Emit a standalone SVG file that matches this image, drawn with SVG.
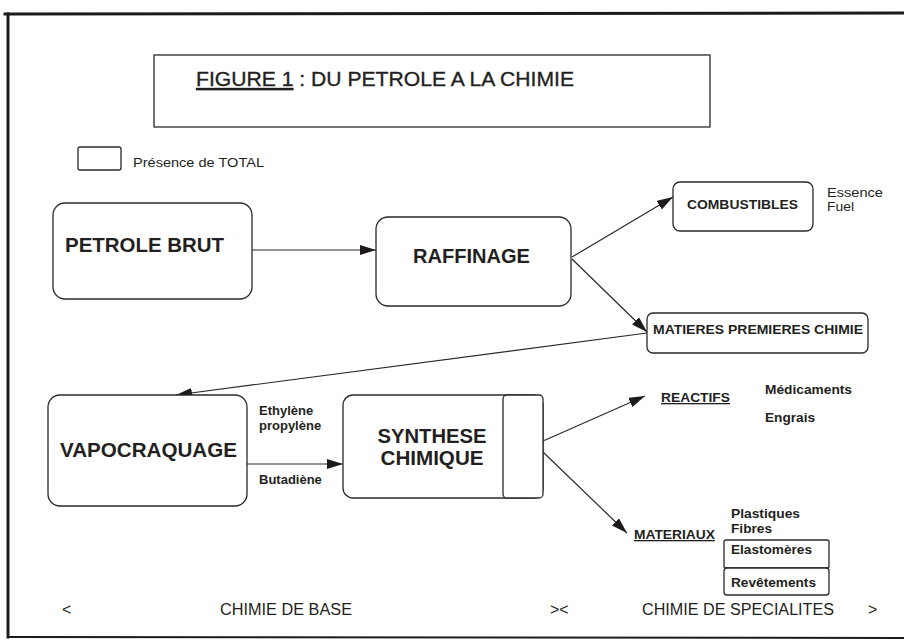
<svg xmlns="http://www.w3.org/2000/svg" width="904" height="642" viewBox="0 0 904 642">
<defs>
<style>
.frame{stroke:#1e1a1c;fill:none;stroke-linecap:square}
.box{fill:#fff;stroke:#2a2a2a;stroke-width:1.3}
.t{font-family:"Liberation Sans",Arial,sans-serif;fill:#231f20}
.big{font-size:20px;font-weight:bold}
.mid{font-size:13px;font-weight:bold}
.lab{font-size:13px;font-weight:bold}
.reg{font-size:13px}
.foot{font-size:16px}
.u{text-decoration:underline}
.edge{stroke:#2a2a2a;stroke-width:1.2;fill:none;marker-end:url(#ah)}
</style>
<marker id="ah" markerUnits="userSpaceOnUse" markerWidth="16" markerHeight="10" refX="16" refY="5" orient="auto">
<path d="M0,0 L16,5 L0,10 z" fill="#1e1a1c"/>
</marker>
</defs>

<g id="frame">
<line class="frame" x1="5" y1="14" x2="904" y2="13" stroke-width="3"/>
<line class="frame" x1="8" y1="14" x2="8" y2="637" stroke-width="3"/>
<line class="frame" x1="8" y1="637" x2="904" y2="638" stroke-width="2" stroke="#555"/>
</g>

<g id="title">
<rect class="box" x="154" y="55" width="556" height="72"/>
<text class="t" x="196" y="86" font-size="21" stroke="#231f20" stroke-width="0.35" textLength="378" lengthAdjust="spacingAndGlyphs"><tspan class="u">FIGURE 1</tspan> : DU PETROLE A LA CHIMIE</text>
</g>

<g id="legend">
<rect class="box" x="78" y="147" width="43" height="23" rx="2"/>
<text class="t" x="133" y="167" font-size="12" textLength="131" lengthAdjust="spacingAndGlyphs">Présence de TOTAL</text>
</g>

<g id="connectors">
<path class="edge" d="M252,250 L376,250"/>
<path class="edge" d="M572,257 L673,197"/>
<path class="edge" d="M572,259 L647,332"/>
<path class="edge" d="M647,333 L176,395"/>
<path class="edge" d="M247,464 L343,464"/>
<path class="edge" d="M543,441 L645,396"/>
<path class="edge" d="M543,452 L627,533"/>
</g>

<g id="petrole-brut">
<rect class="box" x="53" y="203" width="199" height="96" rx="12"/>
<text class="t big" x="65" y="252" textLength="159" lengthAdjust="spacingAndGlyphs">PETROLE BRUT</text>
</g>

<g id="raffinage">
<rect class="box" x="376" y="217" width="195" height="89" rx="12"/>
<text class="t big" x="413" y="263" textLength="117" lengthAdjust="spacingAndGlyphs">RAFFINAGE</text>
</g>

<g id="combustibles">
<rect class="box" x="673" y="182" width="140" height="49" rx="7"/>
<text class="t mid" x="687" y="209" textLength="111" lengthAdjust="spacingAndGlyphs">COMBUSTIBLES</text>
<text class="t reg" x="827" y="197" textLength="56" lengthAdjust="spacingAndGlyphs">Essence</text>
<text class="t reg" x="827" y="211" textLength="27" lengthAdjust="spacingAndGlyphs">Fuel</text>
</g>

<g id="matieres-premieres">
<rect class="box" x="647" y="313" width="221" height="40" rx="6"/>
<text class="t mid" x="653" y="334" textLength="210" lengthAdjust="spacingAndGlyphs">MATIERES PREMIERES CHIMIE</text>
</g>

<g id="vapocraquage">
<rect class="box" x="48" y="395" width="199" height="111" rx="12"/>
<text class="t big" x="60" y="457" textLength="177" lengthAdjust="spacingAndGlyphs">VAPOCRAQUAGE</text>
<text class="t lab" x="259" y="415">Ethylène</text>
<text class="t lab" x="259" y="430">propylène</text>
<text class="t lab" x="259" y="484">Butadiène</text>
</g>

<g id="synthese-chimique">
<rect class="box" x="343" y="395" width="200" height="103" rx="10"/>
<rect class="box" x="503" y="395" width="40" height="103" rx="4"/>
<text class="t big" x="432" y="443" text-anchor="middle" textLength="109" lengthAdjust="spacingAndGlyphs">SYNTHESE</text>
<text class="t big" x="432" y="465" text-anchor="middle" textLength="103" lengthAdjust="spacingAndGlyphs">CHIMIQUE</text>
</g>

<g id="reactifs">
<text class="t mid u" x="661" y="402" textLength="69" lengthAdjust="spacingAndGlyphs">REACTIFS</text>
<text class="t mid" x="765" y="394" textLength="87" lengthAdjust="spacingAndGlyphs">Médicaments</text>
<text class="t mid" x="765" y="422" textLength="50" lengthAdjust="spacingAndGlyphs">Engrais</text>
</g>

<g id="materiaux">
<text class="t mid u" x="634" y="539" textLength="81" lengthAdjust="spacingAndGlyphs">MATERIAUX</text>
<text class="t mid" x="731" y="518" textLength="69" lengthAdjust="spacingAndGlyphs">Plastiques</text>
<text class="t mid" x="731" y="533" textLength="41" lengthAdjust="spacingAndGlyphs">Fibres</text>
</g>

<g id="elastomeres">
<rect class="box" x="724" y="540" width="105" height="28" rx="2"/>
<text class="t mid" x="731" y="554" textLength="81" lengthAdjust="spacingAndGlyphs">Elastomères</text>
</g>

<g id="revetements">
<rect class="box" x="724" y="568" width="105" height="27" rx="3"/>
<text class="t mid" x="731" y="587" textLength="85" lengthAdjust="spacingAndGlyphs">Revêtements</text>
</g>

<g id="footer">
<text class="t foot" x="62" y="615">&lt;</text>
<text class="t foot" x="220" y="615" textLength="132" lengthAdjust="spacingAndGlyphs">CHIMIE DE BASE</text>
<text class="t foot" x="550" y="615">&gt;&lt;</text>
<text class="t foot" x="642" y="615" textLength="192" lengthAdjust="spacingAndGlyphs">CHIMIE DE SPECIALITES</text>
<text class="t foot" x="868" y="615">&gt;</text>
</g>
</svg>
